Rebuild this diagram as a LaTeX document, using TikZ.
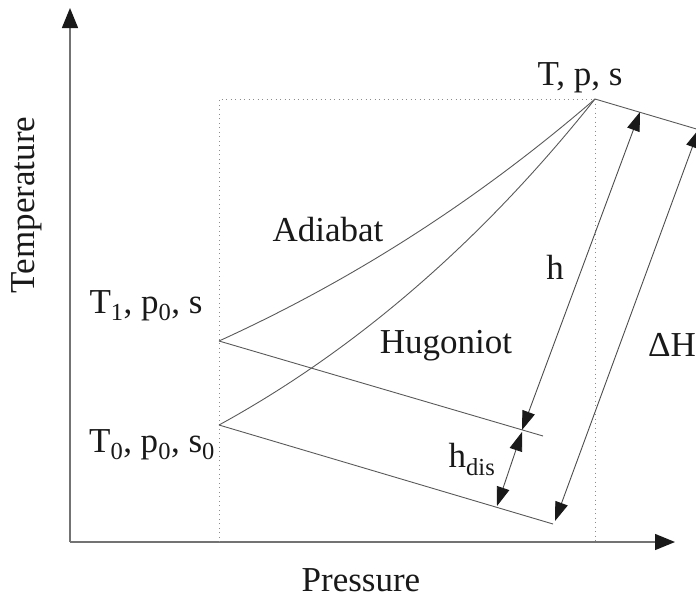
\documentclass[tikz,border=0pt]{standalone}
\usepackage{fontspec}
\setmainfont{Liberation Serif}
\usetikzlibrary{arrows.meta}

\begin{document}
\begin{tikzpicture}[x=1pt, y=-1pt,
  lbl/.style={font=\fontsize{35}{40}\selectfont, inner sep=0pt, anchor=base, text=black!90},
  axis/.style={draw=black!55, line width=1.4pt, -{Triangle[length=20pt, width=16pt, black!90]}},
  guide/.style={draw=black!45, line width=0.9pt, dash pattern=on 1pt off 3.5pt},
  curve/.style={draw=black!65, line width=0.9pt},
  arr/.style={draw=black!70, line width=0.9pt, {Triangle[length=19pt, width=13pt, black!90]}-{Triangle[length=19pt, width=13pt, black!90]}}
]
\clip (0,0) rectangle (696,600);
% axes
\coordinate (origin) at (70,542);
\coordinate (ytop) at (70,8);
\coordinate (xend) at (675,542);
\draw[axis] (origin) -- (ytop);
\draw[axis] (origin) -- (xend);
% states
\coordinate (tps) at (595,99);
\coordinate (ad0) at (219,341);
\coordinate (hg0) at (219,425);
\coordinate (l1end) at (543,436);
\coordinate (l0end) at (553,524);
\coordinate (topend) at (710,133);
% dotted guides
\draw[guide] (ad0 |- origin) -- (ad0 |- tps) -- (tps) -- (tps |- origin);
% adiabat and hugoniot
\draw[curve] (ad0) .. controls (353,280) and (478,200) .. (tps);
\draw[curve] (hg0) .. controls (356,350) and (482,241) .. (tps);
\draw[curve] (ad0) -- (l1end);
\draw[curve] (hg0) -- (l0end);
\draw[curve] (tps) -- (topend);
% enthalpy arrows
\coordinate (hlo) at (522,430);
\coordinate (hhi) at (640,112);
\coordinate (dlo) at (497,506);
\coordinate (dhi) at (522,432);
\coordinate (Hlo) at (555,521);
\coordinate (Hhi) at (699,129);
\draw[arr] (hlo) -- (hhi);
\draw[arr] (dlo) -- (dhi);
\draw[arr] (Hlo) -- (Hhi);
% labels
\node[lbl] (tpslab) at (580,85) {T, p, s};
\node[lbl] (adlab) at (328,241) {Adiabat};
\node[lbl] (hglab) at (446,353) {Hugoniot};
\node[lbl] (hlab) at (555,279) {h};
\node[lbl] (Hlab) at (672,356) {ΔH};
\node[lbl] (t1lab) at (146,313) {T\textsubscript{1}, p\textsubscript{0}, s};
\node[lbl] (t0lab) at (152,452) {T\textsubscript{0}, p\textsubscript{0}, s\textsubscript{0}};
\node[lbl] (dislab) at (472,467) {h\textsubscript{dis}};
\node[lbl] (plab) at (361,591) {Pressure};
\node[lbl, anchor=center, rotate=90] (tlab) at (27,205) {Temperature};
\end{tikzpicture}
\end{document}
